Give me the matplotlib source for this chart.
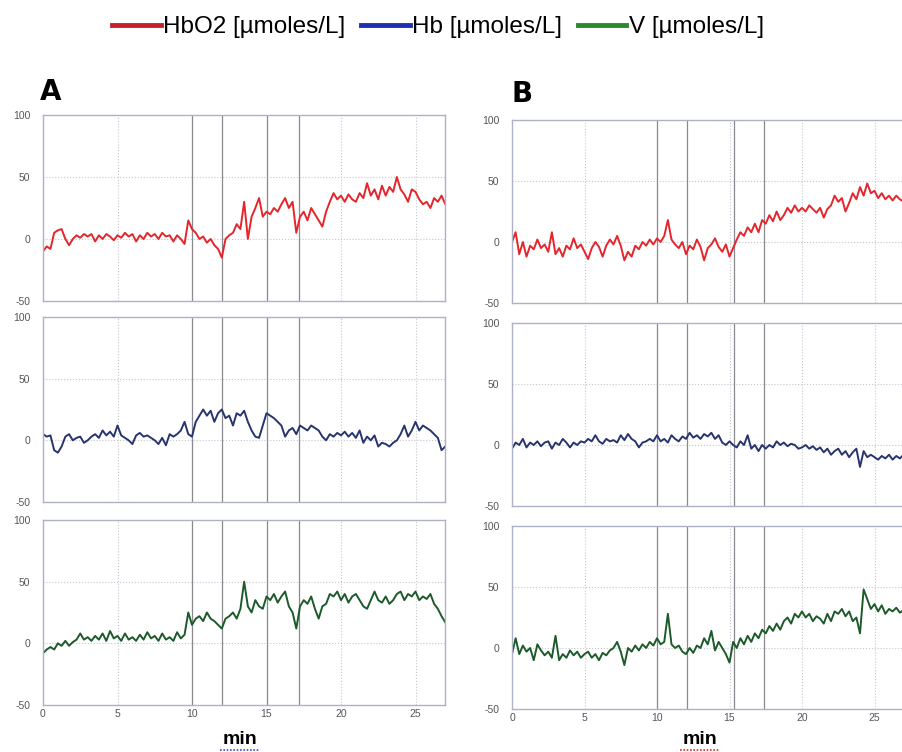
import matplotlib
matplotlib.use("Agg")
import matplotlib.pyplot as plt
from matplotlib.lines import Line2D
import numpy as np

plt.rcParams['font.family'] = ['Liberation Sans', 'DejaVu Sans']
plt.rcParams['axes.unicode_minus'] = False

# values, one sample every 0.25 min (0 .. 27 min)
a_hbo2 = [-10, -6, -8, 5, 7, 8, 0, -5, 0, 3, 1, 4, 2, 4, -2, 3, 0, 4, 2, -1,
          3, 1, 5, 2, 4, -2, 3, 0, 5, 2, 4, 0, 5, 2, 3, -2, 3, 0, -4, 15,
          8, 5, 0, 2, -3, 0, -5, -8, -15, 0, 3, 5, 12, 8, 30, 0, 18, 25, 33, 18,
          22, 20, 25, 22, 28, 33, 25, 30, 5, 18, 22, 15, 25, 20, 15, 10, 22, 30, 37, 32,
          35, 30, 36, 32, 30, 37, 33, 45, 35, 40, 32, 43, 35, 42, 38, 50, 40, 36, 30, 40,
          38, 32, 28, 30, 25, 33, 30, 35, 28]
a_hb = [5, 3, 4, -8, -10, -5, 3, 5, 0, 2, 3, -2, 0, 3, 5, 2, 8, 4, 7, 3,
        12, 4, 2, 0, -3, 4, 6, 3, 4, 2, 0, -3, 2, -4, 5, 3, 5, 8, 15, 5,
        3, 15, 20, 25, 20, 24, 15, 22, 25, 18, 20, 12, 22, 20, 24, 15, 8, 3, 2, 12,
        22, 20, 18, 15, 12, 3, 8, 10, 5, 12, 10, 8, 12, 10, 8, 3, 0, 5, 3, 6,
        4, 7, 3, 6, 2, 8, -2, 3, 0, 4, -5, -2, -3, -5, -2, 0, 5, 12, 3, 8,
        15, 8, 12, 10, 8, 5, 2, -8, -5]
a_v = [-8, -5, -3, -5, 0, -2, 2, -2, 1, 3, 8, 3, 5, 2, 6, 3, 8, 2, 10, 4,
       6, 2, 8, 3, 5, 2, 7, 3, 9, 4, 6, 2, 8, 3, 5, 2, 9, 4, 7, 25,
       15, 20, 22, 18, 25, 20, 18, 15, 12, 20, 22, 25, 20, 28, 50, 30, 25, 35, 30, 28,
       38, 35, 40, 33, 38, 42, 30, 25, 12, 30, 35, 32, 38, 28, 20, 30, 32, 40, 38, 42,
       35, 40, 33, 38, 40, 35, 30, 28, 35, 42, 35, 33, 38, 32, 35, 40, 42, 35, 40, 38,
       42, 35, 38, 36, 40, 32, 28, 22, 17]

b_hbo2 = [0, 8, -10, 0, -12, -3, -6, 2, -5, -2, -8, 8, -10, -5, -12, -3, -6, 3, -5, -2,
          -8, -14, -5, 0, -4, -12, -3, 2, -2, 5, -3, -15, -8, -12, -3, -6, 0, -3, 2, -2,
          3, 0, 5, 18, 2, -2, -5, 0, -10, -3, -6, 2, -4, -15, -5, -2, 3, -4, -8, -2,
          -12, -5, 2, 8, 5, 12, 8, 15, 8, 18, 15, 22, 17, 25, 18, 22, 28, 24, 30, 25,
          28, 25, 30, 27, 24, 28, 20, 27, 30, 38, 33, 36, 25, 32, 40, 35, 45, 38, 48, 40,
          42, 36, 40, 35, 38, 34, 38, 35, 33]
b_hb = [-3, 2, 0, 5, -2, 2, 0, 3, -1, 2, 3, -3, 2, 0, 5, 2, -2, 2, 0, 3,
        2, 5, 3, 8, 3, 1, 5, 3, 4, 2, 8, 4, 9, 5, 3, -2, 2, 3, 5, 3,
        8, 3, 5, 2, 8, 5, 3, 7, 5, 10, 6, 8, 5, 9, 7, 10, 5, 8, 2, 0,
        3, 0, -2, 3, 0, 8, -3, 0, -5, 0, -3, 0, -2, 3, 0, 2, -1, 1, 0, -3,
        -2, 0, -3, -1, -4, -2, -6, -3, -8, -5, -3, -8, -5, -10, -6, -3, -18, -5, -10, -8,
        -10, -12, -9, -11, -8, -12, -9, -11, -8]
b_v = [-5, 8, -5, 2, -3, 0, -10, 3, -2, -6, -3, -8, 10, -10, -5, -8, -2, -6, -3, -8,
       -5, -3, -8, -5, -10, -4, -6, -2, 0, 5, -3, -14, 0, -3, 2, -2, 3, 0, 5, 2,
       8, 3, 5, 28, 3, 0, 2, -3, -5, 0, -4, 2, 0, 8, 3, 14, -2, 5, 0, -5,
       -12, 5, 0, 8, 3, 10, 5, 12, 8, 15, 12, 18, 14, 20, 15, 22, 25, 20, 28, 25,
       30, 25, 28, 22, 26, 24, 20, 28, 22, 30, 28, 32, 26, 30, 22, 25, 12, 48, 40, 32,
       36, 30, 35, 28, 32, 30, 33, 29, 31]

xticks = [0, 5, 10, 15, 20, 25]
yticks = [-50, 0, 50, 100]
a_markers = [10, 12, 15, 17.2]
b_markers = [10, 12.1, 15.3, 17.4]

red = '#e4262c'
blue = '#28346e'
green = '#1d5a2a'
spine_c = '#aeb2c6'
grid_c = '#c4c6d0'
mark_c = '#8a8a8e'
tick_c = '#555555'

fig = plt.figure(figsize=(9.02, 7.52), dpi=100)

W, H = 902.0, 752.0


def panel(left, top, bottom, width_px, xmax, series, color, markers, show_x):
    ax = fig.add_axes([left / W, 1 - bottom / H, width_px / W, (bottom - top) / H])
    t = np.linspace(0, 27, len(series))
    ax.plot(t, series, color=color, lw=1.4)
    ax.set_xlim(0, xmax)
    ax.set_ylim(-50, 100)
    ax.set_yticks(yticks)
    ax.set_xticks(xticks)
    for v in xticks[1:]:
        ax.axvline(v, color=grid_c, lw=0.8, ls=':', zorder=0)
    for v in [0, 50]:
        ax.axhline(v, color=grid_c, lw=0.8, ls=':', zorder=0)
    for m in markers:
        ax.axvline(m, color=mark_c, lw=0.9, zorder=0)
    for s in ax.spines.values():
        s.set_color(spine_c)
        s.set_linewidth(1.0)
    ax.tick_params(length=0, labelsize=7.5, colors=tick_c, pad=9)
    if not show_x:
        ax.tick_params(labelbottom=False)
    else:
        ax.tick_params(axis='x', pad=3)
    return ax


a_left, a_w = 43, 27 * 14.9
b_left, b_w = 512, 27.5 * 14.5
panel(a_left, 115, 301, a_w, 27, a_hbo2, red, a_markers, False)
panel(a_left, 317, 502, a_w, 27, a_hb, blue, a_markers, False)
panel(a_left, 520, 705, a_w, 27, a_v, green, a_markers, True)
panel(b_left, 120, 303, b_w, 27.5, b_hbo2, red, b_markers, False)
panel(b_left, 323, 506, b_w, 27.5, b_hb, blue, b_markers, False)
panel(b_left, 526, 709, b_w, 27.5, b_v, green, b_markers, True)

# panel letters
fig.text(40 / W, 1 - 100 / H, 'A', fontsize=20, fontweight='heavy', family='DejaVu Sans')
fig.text(512 / W, 1 - 102 / H, 'B', fontsize=20, fontweight='heavy', family='DejaVu Sans')

# x labels with spell-check squiggle
for cx, sq in [(240, '#3b4bc8'), (700, '#d83030')]:
    fig.text(cx / W, 1 - 740 / H, 'min', fontsize=14, fontweight='bold', ha='center', va='center')
    fig.lines.append(Line2D([(cx - 20) / W, (cx + 20) / W], [1 - 750 / H, 1 - 750 / H],
                            transform=fig.transFigure, color=sq, lw=1.2, ls=(0, (1, 1))))

handles = [Line2D([], [], color='#c8202a', lw=3.5),
           Line2D([], [], color='#1f2fb0', lw=3.5),
           Line2D([], [], color='#2a8a2a', lw=3.5)]
labels = ['HbO2 [µmoles/L]', 'Hb [µmoles/L]', 'V [µmoles/L]']
fig.legend(handles, labels, loc='center', bbox_to_anchor=(438 / W, 1 - 27 / H), ncol=3,
           frameon=False, handlelength=2.0, handletextpad=0.1,
           columnspacing=0.65, prop={'family': 'Liberation Sans', 'size': 17.5})

fig.savefig('out.png', dpi=100)
